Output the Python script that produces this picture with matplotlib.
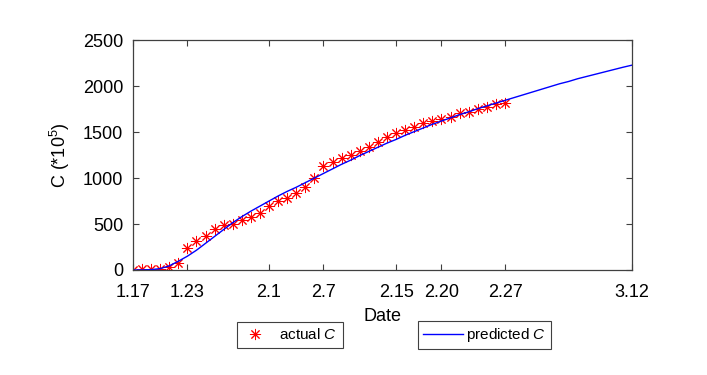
"""Actual vs predicted cumulative C, Jan 17 - Mar 12."""

import matplotlib

matplotlib.use("Agg")
import matplotlib.pyplot as plt

plt.rcParams["font.family"] = ["Liberation Sans", "DejaVu Sans"]
plt.rcParams["mathtext.fontset"] = "custom"
plt.rcParams["mathtext.rm"] = "Liberation Sans"
plt.rcParams["mathtext.it"] = "Liberation Sans:italic"

# days counted from 1.17
tick_days = [0, 6, 15, 21, 29, 34, 41, 55]
tick_labels = ["1.17", "1.23", "2.1", "2.7", "2.15", "2.20", "2.27", "3.12"]

actual_days = list(range(42))
actual_c = [5, 6, 8, 15, 29, 78, 236, 318, 370, 442, 485, 500, 543, 580,
            623, 693, 748, 788, 840, 899, 997, 1130, 1177, 1214, 1250, 1293,
            1341, 1395, 1443, 1493, 1522, 1558, 1595, 1623, 1641, 1666, 1703,
            1714, 1750, 1775, 1801, 1818]

pred_days = list(range(56))
pred_c = [0, 1, 4, 15, 45, 95, 150, 215, 290, 365, 440, 515, 580, 640,
          695, 750, 805, 855, 900, 950, 1000, 1050, 1100, 1150, 1195, 1245,
          1290, 1335, 1380, 1420, 1465, 1505, 1545, 1585, 1620, 1655, 1690,
          1720, 1755, 1785, 1815, 1845, 1875, 1905, 1935, 1965, 1995, 2025,
          2050, 2080, 2105, 2130, 2155, 2180, 2205, 2228]

fig = plt.figure(figsize=(7.07, 3.75), dpi=100)
ax = fig.add_axes([0.188, 0.28, 0.706, 0.613])

star = (8, 2, 0)
h_act, = ax.plot(actual_days, actual_c, linestyle="none", marker=star,
                 markersize=8, markeredgewidth=0.7, color="red")
h_pred, = ax.plot(pred_days, pred_c, color="blue", lw=1)

ax.set_xlim(0, 55)
ax.set_ylim(0, 2500)
ax.set_xticks(tick_days)
ax.set_xticklabels(tick_labels)
ax.set_yticks(range(0, 2501, 500))
ax.tick_params(direction="in", top=True, right=True, labelsize=13,
               color="#404040", length=4)
ax.tick_params(axis="x", pad=10)
ax.tick_params(axis="y", pad=7)
for s in ax.spines.values():
    s.set_color("#404040")
    s.set_linewidth(0.9)
ax.set_xlabel("Date", fontsize=13, labelpad=5)
ax.set_ylabel("C (*10$^5$)", fontsize=13, labelpad=8)

leg1 = fig.legend([h_act], ["actual $C$"], loc="center",
                  bbox_to_anchor=(0.41, 0.107), fontsize=11, fancybox=False,
                  edgecolor="#404040", framealpha=1, handlelength=1.6,
                  borderpad=0.35)
leg1.get_frame().set_linewidth(0.8)
leg2 = fig.legend([h_pred], ["predicted $C$"], loc="center",
                  bbox_to_anchor=(0.685, 0.107), fontsize=11, fancybox=False,
                  edgecolor="#404040", framealpha=1, handlelength=2.6,
                  handletextpad=0.2, borderpad=0.35)
leg2.get_frame().set_linewidth(0.8)

fig.savefig("out.png", dpi=100)
